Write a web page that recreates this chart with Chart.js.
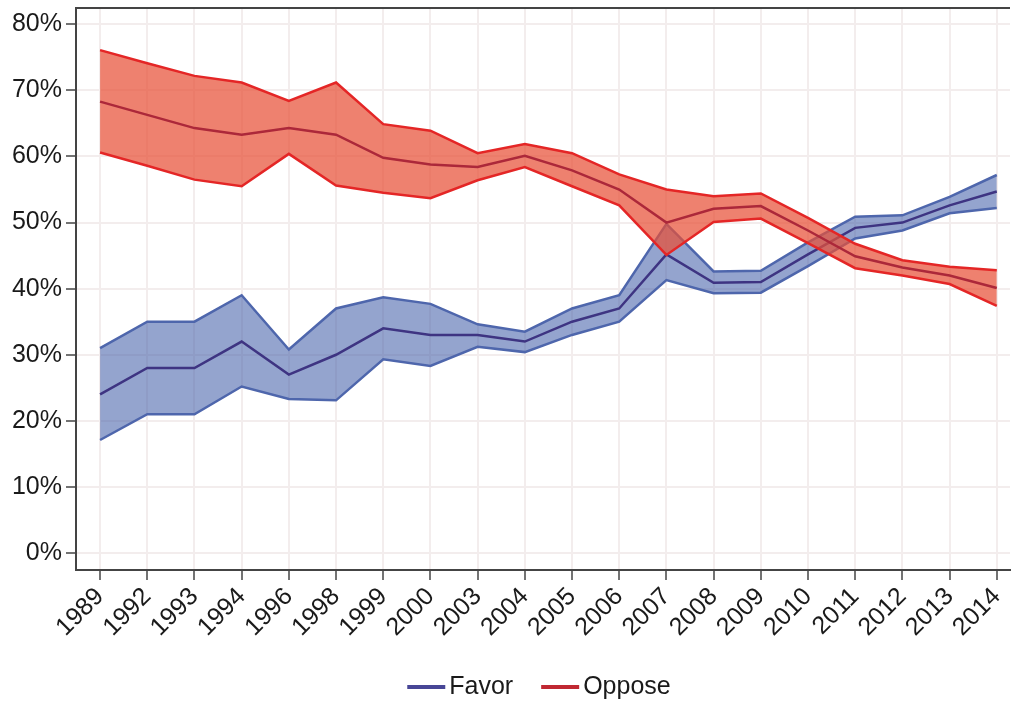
<!DOCTYPE html>
<html>
<head>
<meta charset="utf-8">
<script src="https://cdn.jsdelivr.net/npm/chart.js@4"></script>
<style>
  body { margin: 0; background: #fff; }
  #wrap { width: 1012px; height: 704px; }
</style>
</head>
<body>
<div id="wrap"><canvas id="myChart" width="1012" height="704"></canvas></div>
<script>
const years = ['1989','1992','1993','1994','1996','1998','1999','2000','2003','2004',
               '2005','2006','2007','2008','2009','2010','2011','2012','2013','2014']

const favor      = [24, 28, 28, 32, 27, 30, 34, 33, 33, 32, 35, 37, 45.2, 40.9, 41, 45.2, 49.2, 50, 52.6, 54.7]
const favorHigh  = [31, 35, 35, 39, 30.8, 37, 38.7, 37.7, 34.6, 33.5, 37, 39, 49.8, 42.6, 42.7, 47, 50.9, 51.1, 53.9, 57.2]
const favorLow   = [17.1, 21, 21, 25.2, 23.3, 23.1, 29.3, 28.3, 31.2, 30.4, 33, 35, 41.3, 39.3, 39.4, 43.4, 47.6, 48.8, 51.4, 52.2]

const oppose     = [68.3, 66.3, 64.3, 63.3, 64.3, 63.3, 59.8, 58.8, 58.4, 60.1, 57.9, 55, 50, 52.1, 52.5, 48.8, 44.9, 43.2, 42, 40.1]
const opposeHigh = [76.1, 74.1, 72.2, 71.2, 68.4, 71.2, 64.9, 63.9, 60.5, 61.9, 60.5, 57.3, 55, 54, 54.4, 50.7, 46.8, 44.3, 43.3, 42.8]
const opposeLow  = [60.6, 58.6, 56.5, 55.5, 60.4, 55.6, 54.5, 53.7, 56.4, 58.4, 55.5, 52.6, 45.1, 50.1, 50.6, 46.9, 43.1, 42, 40.7, 37.4]

const yTicks = [0, 10, 20, 30, 40, 50, 60, 70, 80]
const legendNames = ['Favor', 'Oppose']

const pts = (arr) => arr.map((v, i) => ({x: i, y: v}))

const blueEdge = 'rgb(78,102,172)'
const blueFill = 'rgba(60,90,165,0.55)'
const blueLine = 'rgb(62,52,130)'
const redEdge = 'rgb(228,38,38)'
const redFill = 'rgba(232,80,55,0.72)'
const redLine = 'rgb(172,40,58)'
const swatches = ['rgb(72,70,150)', 'rgb(192,40,50)']

const base = {pointRadius: 0, borderWidth: 2.5, tension: 0}

const data = {
    datasets: [
        {...base, label: 'FavorLow', data: pts(favorLow), borderColor: blueEdge, fill: false, order: 3},
        {...base, label: 'FavorHigh', data: pts(favorHigh), borderColor: blueEdge, backgroundColor: blueFill, fill: 0, order: 3},
        {...base, label: legendNames[0], data: pts(favor), borderColor: blueLine, fill: false, order: 2},
        {...base, label: 'OpposeLow', data: pts(opposeLow), borderColor: redEdge, fill: false, order: 1},
        {...base, label: 'OpposeHigh', data: pts(opposeHigh), borderColor: redEdge, backgroundColor: redFill, fill: 3, order: 1},
        {...base, label: legendNames[1], data: pts(oppose), borderColor: redLine, fill: false, order: 0}
    ]
}

const fontFamily = '"Liberation Sans", Arial, sans-serif'

// top frame line + hand drawn legend under the plot
const frame = {
    id: 'frame',
    afterDraw(chart) {
        const {ctx, chartArea} = chart
        ctx.save()
        ctx.strokeStyle = '#444'
        ctx.lineWidth = 2
        ctx.beginPath()
        ctx.moveTo(chartArea.left, chartArea.top)
        ctx.lineTo(chartArea.right, chartArea.top)
        ctx.stroke()

        ctx.font = '25px ' + fontFamily
        const boxW = 38, gapText = 4, gapItem = 28
        let total = 0
        legendNames.forEach((n, i) => {
            total += boxW + gapText + ctx.measureText(n).width + (i ? gapItem : 0)
        })
        let x = (chartArea.left + chartArea.right) / 2 - 4 - total / 2
        const y = 687
        ctx.textBaseline = 'middle'
        legendNames.forEach((n, i) => {
            ctx.fillStyle = swatches[i]
            ctx.fillRect(x, y - 2, boxW, 4)
            x += boxW + gapText
            ctx.fillStyle = '#1a1a1a'
            ctx.fillText(n, x, y)
            x += ctx.measureText(n).width + gapItem
        })
        ctx.restore()
    }
}

const tickFont = {family: fontFamily, size: 25}

const config = {
    type: 'line',
    data: data,
    plugins: [frame],
    options: {
        responsive: false,
        animation: false,
        layout: {padding: {top: 8, right: 2, left: 0, bottom: 0}},
        scales: {
            x: {
                type: 'linear',
                min: -0.51,
                max: 19.28,
                afterBuildTicks: (s) => { s.ticks = years.map((_, i) => ({value: i})) },
                afterFit: (s) => { s.height = 134; s.paddingLeft = 0; s.paddingRight = 0 },
                ticks: {
                    font: tickFont, color: '#1a1a1a', padding: 2,
                    minRotation: 45, maxRotation: 45, autoSkip: false,
                    callback: (v) => years[v]
                },
                grid: {color: '#f3eded', lineWidth: 2, tickLength: 10, tickColor: '#444', tickWidth: 1.5},
                border: {display: true, color: '#444', width: 2}
            },
            y: {
                min: -2.57,
                max: 82.47,
                afterBuildTicks: (s) => { s.ticks = yTicks.map((v) => ({value: v})) },
                afterFit: (s) => { s.width = 76; s.paddingTop = 0; s.paddingBottom = 0 },
                ticks: {font: tickFont, color: '#1a1a1a', padding: 4, callback: (v) => v + '%'},
                grid: {color: '#f3eded', lineWidth: 2, tickLength: 10, tickColor: '#444', tickWidth: 1.5},
                border: {display: true, color: '#444', width: 2}
            }
        },
        plugins: {
            tooltip: {enabled: false},
            legend: {display: false}
        }
    }
}

new Chart(document.getElementById('myChart'), config)
</script>
</body>
</html>
